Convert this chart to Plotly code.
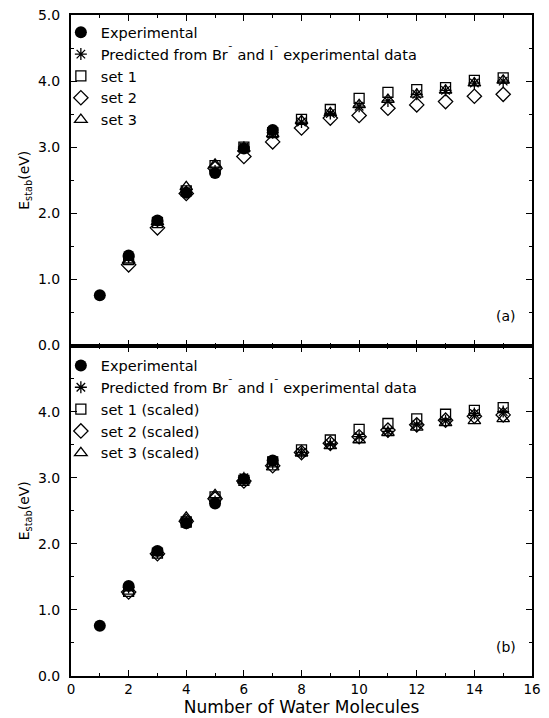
import plotly.graph_objects as go
from plotly.subplots import make_subplots

n_exp = [1, 2, 3, 4, 5, 6, 7]
exp_vals = [0.76, 1.36, 1.89, 2.31, 2.61, 2.98, 3.26]

n_calc = [2, 3, 4, 5, 6, 7, 8, 9, 10, 11, 12, 13, 14, 15]
pred_vals = [1.34, 1.87, 2.33, 2.64, 3.00, 3.22, 3.38, 3.51, 3.62, 3.70, 3.80, 3.86, 3.97, 4.00]

# panel (a)
a_set1 = [1.30, 1.86, 2.34, 2.72, 3.00, 3.22, 3.42, 3.57, 3.74, 3.83, 3.87, 3.90, 4.01, 4.05]
a_set2 = [1.22, 1.78, 2.30, 2.68, 2.86, 3.08, 3.29, 3.44, 3.48, 3.59, 3.64, 3.69, 3.77, 3.80]
a_set3 = [1.29, 1.87, 2.40, 2.74, 2.98, 3.20, 3.40, 3.52, 3.64, 3.72, 3.80, 3.86, 3.97, 4.01]

# panel (b)
b_set1 = [1.28, 1.86, 2.33, 2.71, 2.96, 3.24, 3.42, 3.57, 3.73, 3.82, 3.89, 3.96, 4.02, 4.06]
b_set2 = [1.27, 1.85, 2.34, 2.68, 2.95, 3.18, 3.38, 3.52, 3.62, 3.72, 3.80, 3.87, 3.93, 3.95]
b_set3 = [1.28, 1.87, 2.40, 2.74, 2.96, 3.16, 3.37, 3.48, 3.57, 3.68, 3.76, 3.83, 3.86, 3.89]

x_ticks = [0, 2, 4, 6, 8, 10, 12, 14, 16]
y_ticks_a = [0, 1, 2, 3, 4, 5]
y_ticks_b = [0, 1, 2, 3, 4]

FONT = "DejaVu Sans, Liberation Sans, Arial, sans-serif"

fig = make_subplots(rows=2, cols=1, shared_xaxes=True, vertical_spacing=0)

def add_panel(row, s1, s2, s3, labels, legend_name):
    ms = 10
    specs = [
        (n_calc, s1, "square-open", labels[0], 3, ms),
        (n_calc, s2, "diamond-open", labels[1], 4, ms + 1),
        (n_calc, s3, "triangle-up-open", labels[2], 5, ms + 1),
        (n_calc, pred_vals, "asterisk-open", "Predicted from Br<sup>\u00af</sup> and I<sup>\u00af</sup> experimental data", 2, ms),
    ]
    for xs, ys, sym, name, rank, size in specs:
        fig.add_trace(go.Scatter(
            x=xs, y=ys, mode="markers", name=name, legend=legend_name,
            legendrank=rank,
            marker=dict(symbol=sym, size=size, color="black",
                        line=dict(color="black", width=1.3)),
        ), row=row, col=1)
    fig.add_trace(go.Scatter(
        x=n_exp, y=exp_vals, mode="markers", name="Experimental", legend=legend_name,
        legendrank=1,
        marker=dict(symbol="circle", size=12, color="black"),
    ), row=row, col=1)

add_panel(1, a_set1, a_set2, a_set3, ["set 1", "set 2", "set 3"], "legend")
add_panel(2, b_set1, b_set2, b_set3, ["set 1 (scaled)", "set 2 (scaled)", "set 3 (scaled)"], "legend2")

axis_common = dict(
    showline=True, linecolor="black", linewidth=2, mirror="ticks",
    ticks="inside", ticklen=6, tickwidth=1.2, tickcolor="black",
    showgrid=False, zeroline=False, automargin=False,
    ticklabeloverflow="allow",
)

fig.update_xaxes(range=[0, 16], tickvals=x_ticks,
                 tickfont=dict(family=FONT, size=13.5, color="black"),
                 minor=dict(dtick=1, tick0=0, ticks="inside", ticklen=3, tickcolor="black"),
                 **axis_common)
fig.update_xaxes(showticklabels=False, row=1, col=1)
fig.update_xaxes(title=dict(text="Number of Water Molecules", font=dict(family=FONT, size=17, color="black"), standoff=0),
                 row=2, col=1)

ytitle = dict(text="E<sub>stab</sub>(eV)", font=dict(family=FONT, size=14, color="black"), standoff=5)
for r, tv in ((1, y_ticks_a), (2, y_ticks_b)):
    fig.update_yaxes(range=[0, 5], tickvals=tv, tickformat=".1f", ticklabelstandoff=6,
                     tickfont=dict(family=FONT, size=14, color="black"),
                     minor=dict(dtick=0.5, tick0=0, ticks="inside", ticklen=3, tickcolor="black"),
                     title=ytitle, row=r, col=1, **axis_common)

legend_common = dict(
    font=dict(family=FONT, size=14.5, color="black"),
    bgcolor="rgba(0,0,0,0)", borderwidth=0,
    xanchor="left", yanchor="top", x=-0.022, itemwidth=30,
    tracegroupgap=0, traceorder="normal",
)
fig.update_layout(
    legend=dict(y=0.998, **legend_common),
    legend2=dict(y=0.494, **legend_common),
)

fig.add_annotation(text="(a)", x=0.97, y=0.53, xref="paper", yref="paper",
                   showarrow=False, xanchor="right", yanchor="bottom",
                   font=dict(family=FONT, size=14, color="black"))
fig.add_annotation(text="(b)", x=0.97, y=0.028, xref="paper", yref="paper",
                   showarrow=False, xanchor="right", yanchor="bottom",
                   font=dict(family=FONT, size=14, color="black"))

fig.update_layout(
    width=533, height=710,
    margin=dict(l=63, r=9, t=7, b=42),
    paper_bgcolor="white", plot_bgcolor="white",
    showlegend=True,
    font=dict(family=FONT, color="black"),
)

fig.write_html("out.html")
